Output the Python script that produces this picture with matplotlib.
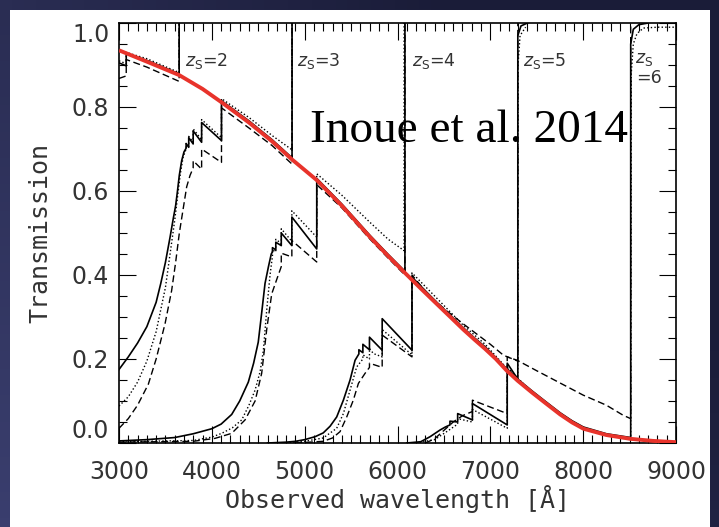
# IGM transmission curves (Inoue et al. 2014 figure, as shown on a slide)

import numpy as np
import matplotlib
matplotlib.use('Agg')
from matplotlib import pyplot as plt
from matplotlib.patches import Rectangle
from matplotlib.colors import LinearSegmentedColormap
from matplotlib.ticker import MultipleLocator

# ---------------------------- data ------------------------------------------
# wavelengths in Angstrom, transmission

# red: mean envelope
red_wl = [3000, 3300, 3648, 3900, 4106, 4400, 4650, 4864, 5130, 5400, 5705, 5900,
          6080, 6250, 6400, 6560, 6710, 6830, 6944, 7060, 7178, 7296, 7450, 7600,
          7752, 7880, 8003, 8250, 8506, 8750, 9000]
red_t = [0.935, 0.908, 0.876, 0.843, 0.811, 0.763, 0.718, 0.675, 0.626, 0.565, 0.49, 0.445,
         0.405, 0.368, 0.336, 0.302, 0.27, 0.246, 0.224, 0.2, 0.172, 0.148, 0.12, 0.094,
         0.068, 0.049, 0.034, 0.019, 0.010, 0.005, 0.002]

# z_s = 2
z2_solid_wl = [3000, 3078, 3078, 3300, 3648, 3648]
z2_solid_t = [0.905, 0.898, 0.927, 0.911, 0.879, 1.0]
z2_dot_wl = [3000, 3078, 3078, 3300, 3648, 3648]
z2_dot_t = [0.91, 0.903, 0.93, 0.915, 0.882, 1.0]
z2_dash_wl = [3000, 3078, 3078, 3300, 3648, 3648]
z2_dash_t = [0.868, 0.874, 0.913, 0.895, 0.861, 1.0]

# z_s = 3
z3_solid_wl = [3000, 3100, 3200, 3300, 3400, 3450, 3500, 3550, 3585, 3610, 3630, 3650,
               3675, 3700, 3723, 3723, 3751, 3751, 3799, 3799, 3890, 3890, 4104, 4104,
               4400, 4650, 4864, 4864]
z3_solid_t = [0.175, 0.205, 0.238, 0.277, 0.335, 0.38, 0.43, 0.49, 0.535, 0.565, 0.60, 0.638,
              0.672, 0.693, 0.702, 0.713, 0.704, 0.727, 0.712, 0.743, 0.716, 0.763, 0.72, 0.815,
              0.767, 0.722, 0.679, 1.0]
z3_dot_wl = [3000, 3100, 3200, 3300, 3400, 3500, 3550, 3600, 3630, 3660, 3690, 3723, 3723,
             3751, 3751, 3799, 3799, 3890, 3890, 4104, 4104, 4400, 4650, 4864, 4864]
z3_dot_t = [0.088, 0.11, 0.145, 0.195, 0.265, 0.37, 0.45, 0.53, 0.585, 0.64, 0.68, 0.70, 0.713,
            0.706, 0.73, 0.716, 0.748, 0.722, 0.77, 0.727, 0.82, 0.775, 0.732, 0.698, 1.0]
z3_dash_wl = [3000, 3100, 3200, 3316, 3400, 3496, 3567, 3610, 3650, 3693, 3729, 3765, 3799,
              3799, 3890, 3890, 4104, 4104, 4400, 4650, 4864, 4864]
z3_dash_t = [0.035, 0.058, 0.09, 0.14, 0.2, 0.284, 0.363, 0.43, 0.5, 0.56, 0.61, 0.637, 0.655,
             0.672, 0.652, 0.70, 0.668, 0.798, 0.75, 0.708, 0.664, 1.0]

# z_s = 4
z4_solid_wl = [3000, 3300, 3600, 3800, 4000, 4100, 4214, 4300, 4393, 4450, 4500, 4537, 4573,
               4610, 4640, 4653, 4653, 4689, 4689, 4748, 4748, 4862, 4862, 5130, 5130,
               5400, 5705, 5900, 6080, 6080]
z4_solid_t = [0.005, 0.008, 0.013, 0.022, 0.034, 0.045, 0.068, 0.1, 0.145, 0.19, 0.24, 0.31, 0.38,
              0.42, 0.45, 0.455, 0.465, 0.46, 0.478, 0.47, 0.5, 0.47, 0.538, 0.462, 0.63,
              0.569, 0.494, 0.449, 0.409, 1.0]
z4_dot_wl = [3000, 3800, 4000, 4106, 4220, 4322, 4400, 4466, 4520, 4555, 4591, 4627, 4653, 4653,
             4689, 4689, 4748, 4748, 4862, 4862, 5130, 5130, 5400, 5705, 5900, 6071, 6071]
z4_dot_t = [0.003, 0.006, 0.014, 0.023, 0.036, 0.055, 0.09, 0.126, 0.17, 0.22, 0.316, 0.40, 0.445,
            0.46, 0.455, 0.485, 0.475, 0.51, 0.48, 0.553, 0.49, 0.641, 0.59, 0.525, 0.485, 0.458, 1.0]
z4_dash_wl = [3000, 3800, 4034, 4214, 4358, 4466, 4537, 4591, 4645, 4700, 4748, 4748, 4862, 4862,
              5130, 5130, 5400, 5705, 5900, 6080, 6080]
z4_dash_t = [0.002, 0.004, 0.011, 0.023, 0.055, 0.10, 0.166, 0.27, 0.355, 0.39, 0.42, 0.452, 0.443,
             0.482, 0.431, 0.615, 0.56, 0.485, 0.44, 0.40, 1.0]

# z_s = 5
z5_solid_wl = [4600, 4800, 4900, 5000, 5112, 5200, 5274, 5345, 5417, 5489, 5543, 5584, 5584,
               5627, 5627, 5698, 5698, 5835, 5835, 6156, 6156, 6400, 6560, 6710, 6830, 6944,
               7060, 7178, 7296, 7296, 7330, 7400]
z5_solid_t = [0.0, 0.002, 0.004, 0.008, 0.015, 0.024, 0.04, 0.062, 0.102, 0.15, 0.197, 0.212, 0.222,
              0.215, 0.235, 0.222, 0.252, 0.221, 0.296, 0.221, 0.395, 0.34, 0.306, 0.274, 0.25, 0.229,
              0.203, 0.176, 0.152, 0.97, 0.993, 1.0]
z5_dot_wl = [4800, 5000, 5200, 5345, 5417, 5489, 5560, 5627, 5627, 5698, 5698, 5740, 5835, 5835,
             6156, 6156, 6400, 6710, 6944, 7178, 7296, 7298, 7320, 7380]
z5_dot_t = [0.0, 0.004, 0.012, 0.035, 0.07, 0.126, 0.181, 0.2, 0.21, 0.2, 0.225, 0.213, 0.205, 0.27,
            0.21, 0.405, 0.35, 0.28, 0.235, 0.178, 0.155, 0.9, 0.97, 0.99]
z5_dash_wl = [4900, 5200, 5300, 5381, 5453, 5524, 5579, 5651, 5698, 5698, 5835, 5835, 6156, 6156,
              6316, 6500, 6700, 7000, 7141, 7296, 7296]
z5_dash_t = [0.0, 0.004, 0.012, 0.027, 0.062, 0.102, 0.142, 0.166, 0.18, 0.19, 0.18, 0.257, 0.205,
             0.40, 0.357, 0.32, 0.285, 0.235, 0.209, 0.195, 1.0]

# z_s = 6
z6_solid_wl = [6100, 6250, 6351, 6459, 6515, 6565, 6565, 6648, 6648, 6807, 6807, 7182, 7182,
               7296, 7450, 7600, 7752, 7880, 8003, 8250, 8512, 8512, 8540, 8600, 8700]
z6_solid_t = [0.0, 0.003, 0.015, 0.031, 0.038, 0.043, 0.052, 0.05, 0.07, 0.055, 0.094, 0.043, 0.19,
              0.152, 0.124, 0.098, 0.072, 0.053, 0.038, 0.022, 0.013, 0.95, 0.985, 0.996, 1.0]
z6_dot_wl = [6200, 6400, 6550, 6648, 6648, 6807, 6807, 7182, 7182, 7450, 7752, 8003, 8250, 8512,
             8518, 8540, 8580, 8650, 8800, 9000]
z6_dot_t = [0.0, 0.008, 0.03, 0.045, 0.058, 0.05, 0.08, 0.035, 0.18, 0.12, 0.07, 0.036, 0.02, 0.012,
            0.88, 0.95, 0.975, 0.988, 0.99, 0.99]
z6_dash_wl = [6300, 6400, 6500, 6600, 6700, 6807, 6807, 7182, 7182, 7289, 7500, 7750, 8000, 8250,
              8431, 8512, 8512]
z6_dash_t = [0.0, 0.01, 0.03, 0.05, 0.065, 0.075, 0.102, 0.07, 0.205, 0.197, 0.172, 0.143, 0.114,
             0.09, 0.066, 0.058, 1.0]

zs_names = ['2', '3', '4', '5']
zs_label_wl = [3711, 4918, 6154, 7357]

# ---------------------------- plot ------------------------------------------
plt.rcParams['mathtext.fontset'] = 'dejavusans'

fig = plt.figure(figsize=(7.19, 5.27), dpi=100)
fig.patch.set_facecolor('#1d2040')

# slide background: dark navy, a bit lighter towards the lower left
bg = fig.add_axes([0, 0, 1, 1], zorder=-20)
bg.axis('off')
gx, gy = np.meshgrid(np.linspace(0, 1, 60), np.linspace(0, 1, 60))
shade = np.clip(1 - 0.8 * gx - 0.5 * (1 - gy), 0, 1)
cmap_bg = LinearSegmentedColormap.from_list('bg', ['#1a1c38', '#3a3e6e'])
bg.imshow(shade, cmap=cmap_bg, extent=[0, 1, 0, 1], origin='upper', aspect='auto',
          vmin=0, vmax=1)
bg.set_xlim(0, 1)
bg.set_ylim(0, 1)

# white slide panel, behind the axes
fig.patches.append(Rectangle((10/719, 0), 700/719, 517/527, transform=fig.transFigure,
                             facecolor='white', edgecolor='none', zorder=-10))

ax = fig.add_axes([119/719, 1 - 443/527, 557/719, 420/527])
ax.set_facecolor('white')

lw = 1.0
dot = (0, (1, 1.6))
dash = (0, (5, 2.6))
curves = [
    (z2_solid_wl, z2_solid_t, z2_dot_wl, z2_dot_t, z2_dash_wl, z2_dash_t),
    (z3_solid_wl, z3_solid_t, z3_dot_wl, z3_dot_t, z3_dash_wl, z3_dash_t),
    (z4_solid_wl, z4_solid_t, z4_dot_wl, z4_dot_t, z4_dash_wl, z4_dash_t),
    (z5_solid_wl, z5_solid_t, z5_dot_wl, z5_dot_t, z5_dash_wl, z5_dash_t),
    (z6_solid_wl, z6_solid_t, z6_dot_wl, z6_dot_t, z6_dash_wl, z6_dash_t),
]
for s_wl, s_t, d_wl, d_t, k_wl, k_t in curves:
    ax.plot(d_wl, d_t, color='black', lw=lw, linestyle=dot, zorder=2)
    ax.plot(k_wl, k_t, color='black', lw=lw, linestyle=dash, zorder=2)
    ax.plot(s_wl, s_t, color='black', lw=1.2, zorder=3)

ax.plot(red_wl, red_t, color='#e8332b', lw=2.8, zorder=4, solid_capstyle='butt')

# z_s labels
lab_kw = dict(fontsize=12.5, color='#333333', va='baseline', ha='left', zorder=6)
for name, xw in zip(zs_names, zs_label_wl):
    ax.text(xw, 0.898, r'$z_{\rm S}$=' + name, **lab_kw)
ax.text(8560, 0.905, r'$z_{\rm S}$', **lab_kw)
ax.text(8575, 0.858, '=6', **lab_kw)

ax.text(5058, 0.717, 'Inoue et al. 2014', fontsize=34, family='Liberation Serif',
        color='black', va='baseline', ha='left', zorder=7)

ax.set_xlim(3000, 9000)
ax.set_ylim(0, 1.0)
ax.xaxis.set_major_locator(MultipleLocator(1000))
ax.xaxis.set_minor_locator(MultipleLocator(100))
ax.yaxis.set_major_locator(MultipleLocator(0.2))
ax.yaxis.set_minor_locator(MultipleLocator(0.05))
ax.set_yticks([0.0, 0.2, 0.4, 0.6, 0.8, 1.0])
ax.set_yticklabels(['0.0', '0.2', '0.4', '0.6', '0.8', '1.0'])
ax.tick_params(which='both', direction='in', top=True, right=True, width=0.8,
               colors='black', labelcolor='#333333', labelsize=17)
ax.tick_params(which='major', length=12)
ax.tick_params(which='minor', length=5.5)
ax.tick_params(axis='x', pad=12)
ax.tick_params(axis='y', pad=7)
for sp in ax.spines.values():
    sp.set_linewidth(1.2)

# end labels on y nudged inside like the original
yt = ax.yaxis.get_major_ticks()
yt[0].label1.set_va('bottom')
yt[-1].label1.set_va('top')

ax.set_xlabel('Observed wavelength [Å]', family='DejaVu Sans Mono', fontsize=18,
              color='#333333')
ax.set_ylabel('Transmission', family='DejaVu Sans Mono', fontsize=18, color='#333333')
ax.xaxis.set_label_coords(0.5, -0.1)
ax.yaxis.set_label_coords(-0.12, 0.5)

fig.savefig('out.png', dpi=100, facecolor=fig.get_facecolor())
